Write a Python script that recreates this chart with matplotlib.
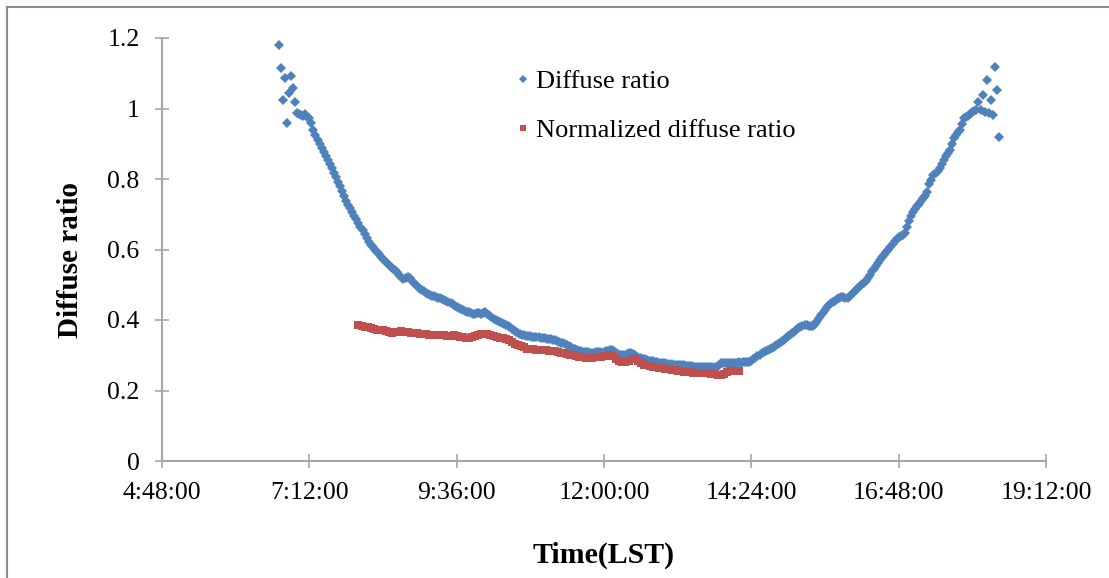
import numpy as np
import matplotlib
matplotlib.use("Agg")
import matplotlib.pyplot as plt
from matplotlib.lines import Line2D

plt.rcParams['font.family'] = ['Liberation Serif', 'DejaVu Serif']

# diffuse ratio, one reading every 2 minutes from 6:42 LST
diffuse_start = 6 + 42 / 60
diffuse_step = 2 / 60
diffuse_ratio = [
    1.18, 1.115, 1.024, 1.087, 0.959, 1.044, 1.092, 1.058, 1.018, 0.987, 0.984, 0.982, 0.979, 0.984, 0.975,
    0.972, 0.958, 0.94, 0.925, 0.912, 0.90, 0.888, 0.877, 0.866, 0.855, 0.843, 0.831, 0.818, 0.805, 0.792,
    0.779, 0.765, 0.752, 0.738, 0.727, 0.717, 0.706, 0.696, 0.686, 0.675, 0.665, 0.655, 0.645, 0.634, 0.622,
    0.614, 0.607, 0.600, 0.593, 0.587, 0.580, 0.573, 0.567, 0.561, 0.556, 0.551, 0.546, 0.541, 0.535, 0.529,
    0.522, 0.516, 0.518, 0.523, 0.52, 0.512, 0.505, 0.499, 0.494, 0.489, 0.485, 0.481, 0.477, 0.474, 0.471,
    0.469, 0.467, 0.465, 0.463, 0.461, 0.459, 0.456, 0.453, 0.45, 0.447, 0.444, 0.441, 0.437, 0.434, 0.431,
    0.429, 0.426, 0.424, 0.422, 0.42, 0.418, 0.417, 0.419, 0.421, 0.418, 0.42, 0.422, 0.418, 0.414, 0.409,
    0.404, 0.40, 0.397, 0.394, 0.391, 0.388, 0.385, 0.382, 0.379, 0.375, 0.371, 0.367, 0.363, 0.36, 0.358,
    0.357, 0.356, 0.355, 0.354, 0.353, 0.352, 0.352, 0.351, 0.35, 0.349, 0.348, 0.347, 0.346, 0.345, 0.344,
    0.342, 0.34, 0.338, 0.336, 0.334, 0.331, 0.328, 0.325, 0.322, 0.319, 0.317, 0.315, 0.313, 0.311, 0.31,
    0.309, 0.308, 0.307, 0.306, 0.307, 0.308, 0.309, 0.308, 0.307, 0.309, 0.311, 0.313, 0.315, 0.314, 0.311,
    0.307, 0.304, 0.301, 0.30, 0.301, 0.303, 0.305, 0.306, 0.304, 0.30, 0.296, 0.293, 0.291, 0.289, 0.288,
    0.287, 0.285, 0.284, 0.283, 0.282, 0.28, 0.279, 0.278, 0.277, 0.277, 0.276, 0.275, 0.274, 0.273, 0.273,
    0.272, 0.272, 0.271, 0.271, 0.27, 0.27, 0.269, 0.269, 0.268, 0.268, 0.267, 0.267, 0.267, 0.266, 0.267,
    0.267, 0.266, 0.267, 0.266, 0.268, 0.273, 0.277, 0.278, 0.277, 0.278, 0.279, 0.278, 0.279, 0.278, 0.279,
    0.28, 0.279, 0.28, 0.281, 0.28, 0.282, 0.284, 0.288, 0.292, 0.297, 0.301, 0.305, 0.309, 0.312, 0.315,
    0.318, 0.321, 0.324, 0.328, 0.332, 0.336, 0.34, 0.344, 0.349, 0.354, 0.358, 0.362, 0.366, 0.371, 0.376,
    0.381, 0.384, 0.386, 0.385, 0.384, 0.383, 0.384, 0.39, 0.398, 0.406, 0.414, 0.421, 0.428, 0.436, 0.442,
    0.447, 0.451, 0.455, 0.459, 0.463, 0.465, 0.464, 0.462, 0.463, 0.467, 0.473, 0.479, 0.485, 0.491, 0.497,
    0.502, 0.506, 0.512, 0.52, 0.529, 0.538, 0.546, 0.554, 0.562, 0.57, 0.578, 0.585, 0.592, 0.599, 0.607,
    0.616, 0.624, 0.63, 0.635, 0.639, 0.641, 0.647, 0.665, 0.68, 0.694, 0.706, 0.714, 0.722, 0.73, 0.737,
    0.745, 0.752, 0.762, 0.785, 0.798, 0.81, 0.817, 0.824, 0.831, 0.842, 0.855, 0.864, 0.873, 0.882, 0.9,
    0.916, 0.925, 0.932, 0.939, 0.955, 0.973, 0.976, 0.98, 0.984, 0.99, 0.993, 0.996, 1.018, 0.996, 1.038,
    0.99, 1.081, 0.987, 1.024, 0.982, 1.118, 1.052, 0.919,
]

# normalized diffuse ratio, one reading every 3 minutes from 8:00 LST
norm_start = 8.0
norm_step = 3 / 60
norm_ratio = [
    0.386, 0.384, 0.381, 0.379, 0.377, 0.375, 0.373, 0.372, 0.371, 0.369,
    0.366, 0.364, 0.365, 0.366, 0.368, 0.367, 0.366, 0.364, 0.363, 0.362,
    0.361, 0.36, 0.359, 0.358, 0.358, 0.358, 0.357, 0.357, 0.357, 0.356,
    0.356, 0.357, 0.355, 0.353, 0.351, 0.349, 0.35, 0.352, 0.354, 0.357,
    0.359, 0.36, 0.361, 0.358, 0.355, 0.352, 0.35, 0.348, 0.346, 0.342,
    0.337, 0.333, 0.329, 0.326, 0.322, 0.319, 0.318, 0.317, 0.316, 0.316,
    0.315, 0.314, 0.313, 0.312, 0.311, 0.309, 0.307, 0.305, 0.303, 0.301,
    0.30, 0.298, 0.296, 0.295, 0.293, 0.292, 0.293, 0.294, 0.295, 0.295,
    0.297, 0.299, 0.30, 0.298, 0.29, 0.283, 0.281, 0.282, 0.285, 0.288,
    0.289, 0.285, 0.279, 0.273, 0.271, 0.27, 0.268, 0.266, 0.265, 0.264,
    0.262, 0.26, 0.258, 0.257, 0.256, 0.254, 0.253, 0.252, 0.252, 0.251,
    0.251, 0.25, 0.25, 0.249, 0.249, 0.248, 0.246, 0.245, 0.244, 0.248,
    0.252, 0.254, 0.254, 0.255, 0.255,
]

x_ticks = [4.8, 7.2, 9.6, 12.0, 14.4, 16.8, 19.2]
x_labels = ['4:48:00', '7:12:00', '9:36:00', '12:00:00', '14:24:00', '16:48:00', '19:12:00']
y_ticks = [0, 0.2, 0.4, 0.6, 0.8, 1.0, 1.2]
y_labels = ['0', '0.2', '0.4', '0.6', '0.8', '1', '1.2']

blue = '#4F81BD'
red = '#C0504D'
axis_grey = '#A6A6A6'

t_diffuse = diffuse_start + np.arange(len(diffuse_ratio)) * diffuse_step
t_norm = norm_start + np.arange(len(norm_ratio)) * norm_step

fig = plt.figure(figsize=(11.09, 5.78), dpi=100)
ax = fig.add_axes([162 / 1109, 1 - 461 / 578, 884 / 1109, 423 / 578])

ax.plot(t_diffuse, diffuse_ratio, linestyle='none', marker='D', ms=5.4,
        color=blue, mew=0, label='Diffuse ratio')
ax.plot(t_norm, norm_ratio, linestyle='none', marker='s', ms=6.0,
        color=red, mew=0, label='Normalized diffuse ratio')

ax.set_xlim(4.8, 19.2)
ax.set_ylim(0, 1.2)
ax.set_xticks(x_ticks)
ax.set_xticklabels(x_labels)
ax.set_yticks(y_ticks)
ax.set_yticklabels(y_labels)

for side in ['top', 'right']:
    ax.spines[side].set_visible(False)
for side in ['left', 'bottom']:
    ax.spines[side].set_color(axis_grey)
    ax.spines[side].set_linewidth(1.5)
ax.tick_params(direction='inout', length=10.5, width=1.2, color=axis_grey,
               labelsize=18.5, labelcolor='black')
ax.tick_params(axis='y', pad=11)
ax.tick_params(axis='x', pad=10)

ax.set_xlabel('Time(LST)', fontsize=21.5, fontweight='bold')
ax.xaxis.label.set_va('center')
ax.xaxis.set_label_coords(0.5, -0.222)
ax.set_ylabel('Diffuse ratio', fontsize=21, fontweight='bold')
ax.yaxis.label.set_va('center')
ax.yaxis.set_label_coords(-0.104, 0.476)

leg = ax.legend(loc='upper left', bbox_to_anchor=(0.399, 0.925), frameon=False,
                fontsize=19, handlelength=0.6, handletextpad=0.2, labelspacing=0.97,
                borderpad=0, borderaxespad=0, markerscale=0.8)

# chart-area border (only left and top edges are visible in the crop)
fig.add_artist(Line2D([7 / 1109, 7 / 1109], [0, 1 - 7 / 578], color='#8C8C8C', lw=1.5))
fig.add_artist(Line2D([7 / 1109, 1], [1 - 7 / 578, 1 - 7 / 578], color='#8C8C8C', lw=1.5))

fig.savefig('out.png', dpi=100)
